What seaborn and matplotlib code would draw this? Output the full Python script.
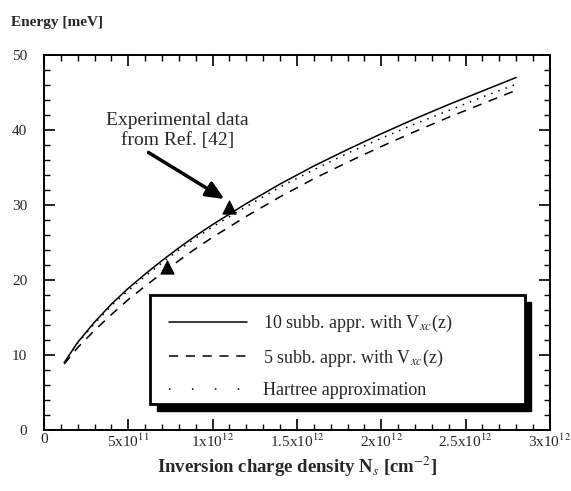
import numpy as np
import pandas as pd
import matplotlib
matplotlib.use("Agg")
import matplotlib.pyplot as plt
from matplotlib.patches import Rectangle
from matplotlib.lines import Line2D
from matplotlib.ticker import MultipleLocator, FixedLocator
import seaborn as sns

# Inversion charge density (units of 1e12 cm^-2) and subband energy (meV)
density = [0.12, 0.2, 0.3, 0.4, 0.5, 0.6, 0.7, 0.8, 0.9, 1.0, 1.2, 1.4,
           1.6, 1.8, 2.0, 2.2, 2.4, 2.6, 2.8]
energy_10sub = [9.0, 11.7, 14.4, 16.8, 18.9, 20.8, 22.6, 24.3, 25.9, 27.4,
                30.2, 32.8, 35.2, 37.4, 39.5, 41.5, 43.4, 45.2, 47.0]
energy_5sub = [8.8, 11.0, 13.3, 15.4, 17.4, 19.2, 20.9, 22.6, 24.2, 25.7,
               28.5, 31.1, 33.5, 35.7, 37.8, 39.8, 41.7, 43.5, 45.3]
energy_hartree = [9.0, 11.6, 14.2, 16.6, 18.6, 20.5, 22.3, 24.0, 25.6, 27.1,
                  29.8, 32.4, 34.7, 36.9, 38.9, 40.8, 42.6, 44.4, 46.1]

# Experimental points
exp_density = [0.73, 1.10]
exp_energy = [21.7, 29.7]

x_ticks = [0, 0.5, 1.0, 1.5, 2.0, 2.5, 3.0]
x_ticklabels = ["0", r"5x10$^{11}$", r"1x10$^{12}$", r"1.5x10$^{12}$",
                r"2x10$^{12}$", r"2.5x10$^{12}$", r"3x10$^{12}$"]
y_ticks = [0, 10, 20, 30, 40, 50]

labels = [r"10 subb. appr. with V$_{xc}$(z)",
          r"5 subb. appr. with V$_{xc}$(z)",
          "Hartree approximation"]

sns.set_theme(style="ticks")
plt.rcParams["font.family"] = ["Liberation Serif", "DejaVu Serif"]
plt.rcParams["mathtext.fontset"] = "stix"

df = pd.concat([
    pd.DataFrame({"N": density, "E": energy_10sub, "model": labels[0]}),
    pd.DataFrame({"N": density, "E": energy_5sub, "model": labels[1]}),
    pd.DataFrame({"N": density, "E": energy_hartree, "model": labels[2]}),
])

fig = plt.figure(figsize=(5.71, 4.91), dpi=100)
ax = fig.add_axes([0.077, 0.124, 0.886, 0.764])

styles = {labels[0]: "-", labels[1]: (0, (6, 5)), labels[2]: (0, (1, 4))}
for lab in labels:
    sub = df[df["model"] == lab]
    sns.lineplot(data=sub, x="N", y="E", ax=ax, color="black",
                 linewidth=1.1, linestyle=styles[lab], legend=False)

sns.scatterplot(x=exp_density, y=exp_energy, ax=ax, marker="^", s=90,
                color="black", edgecolor="black", legend=False, zorder=5)

ax.set_xlim(0, 3.0)
ax.set_ylim(0, 50)
ax.xaxis.set_major_locator(FixedLocator(x_ticks))
ax.set_xticklabels(x_ticklabels)
ax.xaxis.set_minor_locator(MultipleLocator(0.1))
ax.yaxis.set_major_locator(FixedLocator(y_ticks))
ax.yaxis.set_minor_locator(MultipleLocator(2))
ax.tick_params(which="both", direction="in", top=True, right=True,
               color="black", labelsize=11)
ax.tick_params(axis="x", pad=2)
ax.tick_params(axis="y", pad=12)
ax.tick_params(which="major", length=8, width=1.2)
ax.tick_params(which="minor", length=4, width=1.0)
for s in ax.spines.values():
    s.set_linewidth(1.4)
    s.set_color("black")

ax.set_xlabel(r"Inversion charge density N$_s$ [cm$^{-2}$]",
              fontsize=13.5, fontweight="bold", labelpad=3)
ax.set_ylabel("")
fig.text(0.02, 0.955, "Energy [meV]", fontsize=11, fontweight="bold",
         ha="left", va="center")

# Annotation for experimental data
ax.text(0.79, 39.9, "Experimental data\nfrom Ref. [42]", ha="center",
        va="center", fontsize=14, linespacing=1.25)
ax.annotate("", xy=(1.07, 30.8), xytext=(0.62, 37.0),
            arrowprops=dict(arrowstyle="-|>,head_length=0.9,head_width=0.4",
                            color="black", lw=2.5, shrinkA=0, shrinkB=0))

# Legend box with drop shadow
x0, y0, w, h = 0.21, 0.07, 0.74, 0.29
ax.add_patch(Rectangle((x0 + 0.013, y0 - 0.018), w, h, transform=ax.transAxes,
                       facecolor="black", edgecolor="black", zorder=6))
ax.add_patch(Rectangle((x0, y0), w, h, transform=ax.transAxes,
                       facecolor="white", edgecolor="black", linewidth=2,
                       zorder=7))
handles = [Line2D([], [], color="black", lw=1.1,
                  linestyle=(0, (1, 14)) if l == labels[2] else styles[l])
           for l in labels]
leg = ax.legend(handles, labels, loc="center left",
                bbox_to_anchor=(x0 + 0.005, y0 + h / 2 - 0.018), frameon=False,
                fontsize=13, handlelength=4.3, handletextpad=0.9,
                labelspacing=0.75)
leg.set_zorder(8)

fig.savefig("out.png", dpi=100)
